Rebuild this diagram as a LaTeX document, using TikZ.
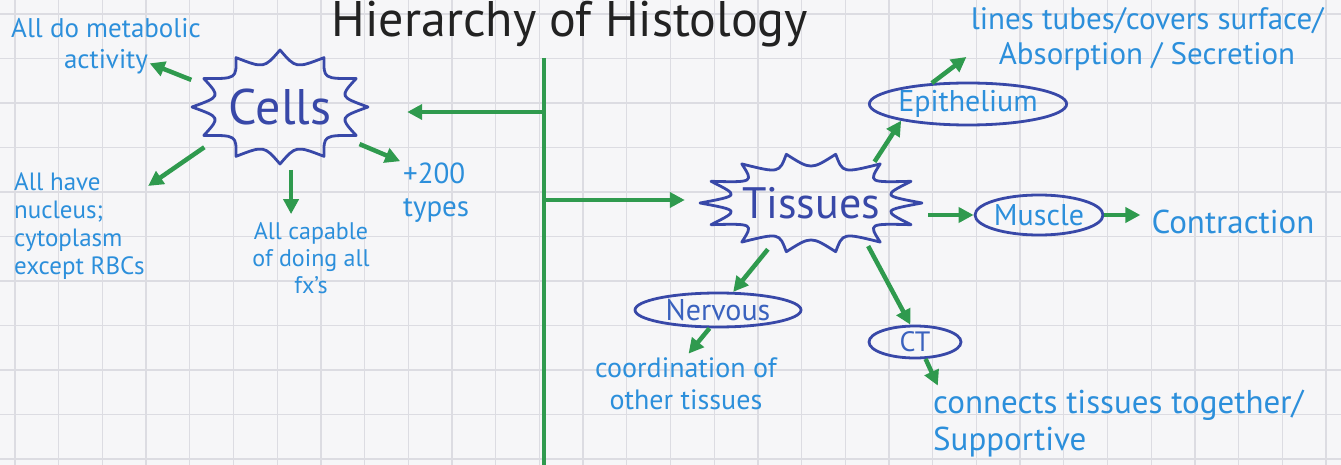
\documentclass[tikz,border=0pt]{standalone}
\usepackage{fontspec}
\setmainfont{PT Sans}
\usetikzlibrary{arrows.meta,shapes.geometric,calc}
\definecolor{paper}{HTML}{F6F6F8}
\definecolor{gridc}{HTML}{DCDCE2}
\definecolor{pen}{HTML}{2F9A4E}
\definecolor{ink}{HTML}{3848A8}
\definecolor{midink}{HTML}{3A62BE}
\definecolor{sky}{HTML}{2C8FDB}
\definecolor{titlec}{HTML}{222222}
\newcommand\fsz[2]{\fontsize{#1pt}{#2pt}\selectfont}
% center x, center y, radius x, radius y, number of spikes, depth factor
\newcommand\drawburst[6]{%
  \draw[burst] ({#1+#3},{#2})
  \foreach \k in {1,...,#5}{
    .. controls ({#1+#6*#3*cos((\k-0.5)*360/#5)},{#2+#6*#4*sin((\k-0.5)*360/#5)})
    .. ({#1+#3*cos(\k*360/#5)},{#2+#4*sin(\k*360/#5)})
  } -- cycle;}
\tikzset{
  gridline/.style={draw=gridc, line width=1.3pt},
  arr/.style={draw=pen, line width=4.5pt, -{Triangle[length=15pt,width=15pt]}},
  trunk/.style={draw=pen, line width=4.5pt},
  burst/.style={draw=ink, line width=2.8pt, line join=round},
  oval/.style={ellipse, draw=ink, line width=2.8pt, inner sep=0pt},
  hub/.style={ellipse, inner sep=0pt, text=ink},
  lbl/.style={text=sky, inner sep=1pt},
}
\begin{document}
\begin{tikzpicture}[x=1pt,y=-1pt]
\fill[paper] (0,0) rectangle (1341,465);
\useasboundingbox (0,0) rectangle (1341,465);
\foreach \gx in {0,...,30} \draw[gridline] ({15+43.7*\gx},0) -- ++(0,465);
\foreach \gy in {0,...,10} \draw[gridline] (0,{14+44.5*\gy}) -- ++(1341,0);

\node[text=titlec, anchor=base, font=\fsz{50}{50}] (title) at (570,37) {Hierarchy of Histology};

% trunk
\coordinate (ttop) at (544,58);
\coordinate (tbot) at (544,470);
\coordinate (j1) at (544,112);
\coordinate (j2) at (544,200);
\draw[trunk] (ttop) -- (tbot);

% hubs
\node[hub, minimum width=196pt, minimum height=126pt, font=\fsz{50}{50}] (cells) at (280,107) {Cells};
\drawburst{280}{107}{88}{57}{12}{0.7}
\node[hub, minimum width=222pt, minimum height=100pt, font=\fsz{44}{44}] (tissues) at (811,203) {Tissues};
\drawburst{811}{203}{111}{50}{14}{0.66}

% cell labels
\node[lbl, align=center, font=\fsz{27}{31}] (metab) at (106,46) {All do metabolic\\activity};
\node[lbl, align=left, anchor=west, font=\fsz{25}{28}] (nucleus) at (13,226) {All have\\nucleus;\\cytoplasm\\except RBCs};
\node[lbl, align=center, font=\fsz{24}{27}] (capable) at (311,258) {All capable\\of doing all\\fx's};
\node[lbl, align=left, anchor=west, font=\fsz{29}{33}] (types) at (402,193) {+200\\types};

% tissue types
\node[oval, minimum width=175pt, minimum height=42pt, text=sky, font=\fsz{30}{30}] (epith) at (968,104) {Epithelium};
\node[oval, minimum width=128pt, minimum height=40pt, text=sky, font=\fsz{30}{30}] (muscle) at (1039,215) {Muscle};
\node[oval, minimum width=166pt, minimum height=34pt, text=midink, font=\fsz{30}{30}] (nervous) at (718,310) {Nervous};
\node[oval, minimum width=92pt, minimum height=32pt, text=midink, font=\fsz{28}{28}] (ct) at (915,342) {CT};

% tissue labels
\node[lbl, align=center, font=\fsz{31}{35}] (epitxt) at (1147,39) {lines tubes/covers surface/\\Absorption / Secretion};
\node[lbl, font=\fsz{33}{33}] (contraction) at (1233,222) {Contraction};
\node[lbl, align=center, font=\fsz{28}{32}] (coord) at (686,384) {coordination of\\other tissues};
\node[lbl, align=left, anchor=west, font=\fsz{33}{37}] (connects) at (932,424) {connects tissues together/\\Supportive};

% connectors
\draw[arr, shorten >=29pt] (j1) -- (j1 -| cells.east);
\draw[arr, shorten >=15pt] (j2) -- (j2 -| tissues.west);
\draw[arr, shorten >=47pt] (cells.163) -- (metab.center);
\draw[arr, shorten >=3pt] (cells.208) -- (nucleus.30);
\draw[arr, shorten >=7pt] (cells.-80) -- (cells.-80 |- capable.north);
\draw[arr, shorten >=2pt] (cells.-25) -- (types.north west);
\draw[arr] (tissues.33) -- (epith.194);
\draw[arr, shorten <=6pt] (muscle.west -| tissues.east) -- (muscle.west);
\draw[arr] (tissues.227) -- (nervous.50);
\draw[arr] (tissues.-37) -- (ct.105);
\draw[arr, shorten >=4pt] (epith.150) -- (epitxt.185);
\draw[arr, shorten >=10pt] (muscle.east) -- (muscle.east -| contraction.west);
\draw[arr, shorten >=4pt] (nervous.-115) -- (coord.north);
\draw[arr, shorten >=4pt] (ct.-58) -- (connects.169);
\end{tikzpicture}
\end{document}
